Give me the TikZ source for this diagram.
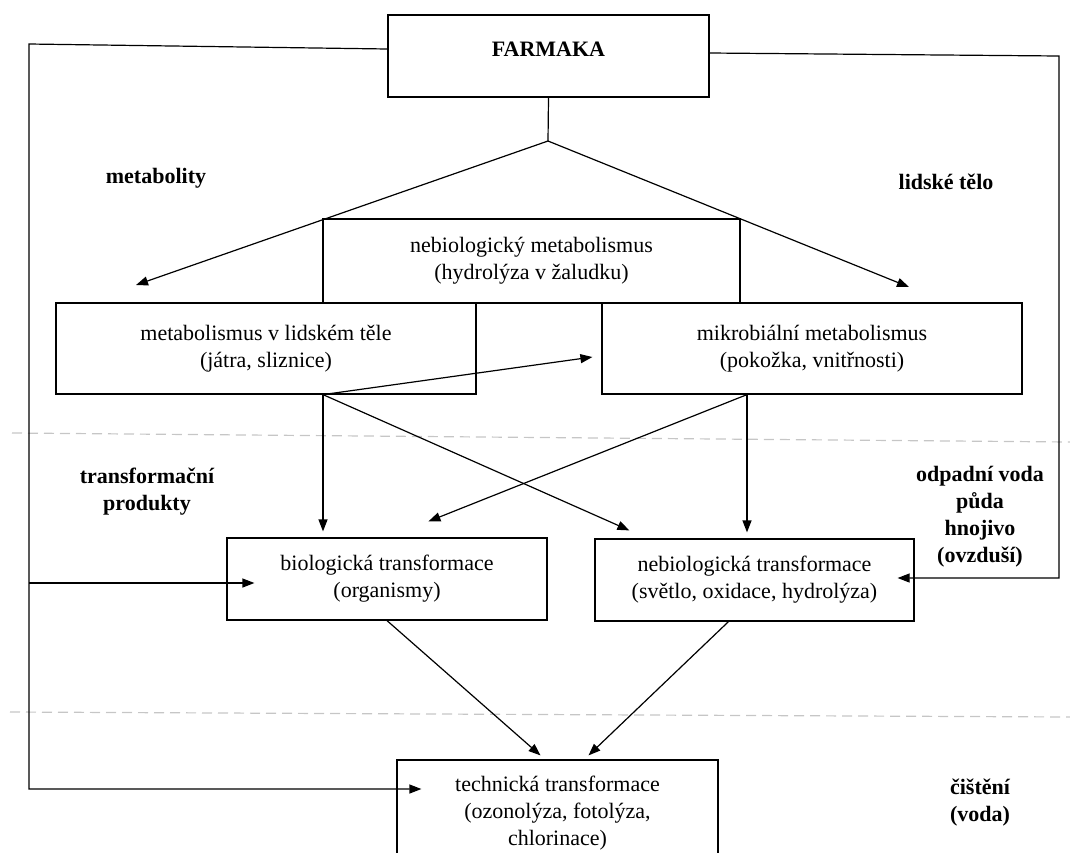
\documentclass[tikz,border=0pt]{standalone}
\usepackage{fontspec}
\setmainfont{Liberation Serif}
\usetikzlibrary{arrows.meta,positioning,calc}

\begin{document}
\begin{tikzpicture}[x=1pt, y=-1pt, font=\fontsize{22}{27}\selectfont, box/.style={draw, line width=1.2pt, align=center, inner sep=0pt}, arr/.style={-{Triangle[length=12pt,width=9pt]}, line width=1.2pt}, lbl/.style={font=\fontsize{22}{27}\selectfont\bfseries, align=center}, sep/.style={gray!45, line width=1.2pt, dash pattern=on 10pt off 6pt}]
\useasboundingbox (0,0) rectangle (1070,852);
\clip (0,0) rectangle (1070,852);
% boxes
\node[box, minimum width=321pt, minimum height=82pt, text depth=14pt] (farmaka) at (548.5,56) {\textbf{FARMAKA}};
\node[box, minimum width=417pt, minimum height=84pt] (nebmet) at (531.5,261) {nebiologický metabolismus\\(hydrolýza v žaludku)};
\node[box, minimum width=420pt, minimum height=91pt] (lidmet) at (266,348.5) {metabolismus v lidském těle\\(játra, sliznice)};
\node[box, minimum width=420pt, minimum height=91pt] (mikmet) at (812,348.5) {mikrobiální metabolismus\\(pokožka, vnitřnosti)};
\node[box, minimum width=320pt, minimum height=82pt] (biotr) at (387,579) {biologická transformace\\(organismy)};
\node[box, minimum width=319pt, minimum height=82pt] (nebtr) at (754.5,580) {nebiologická transformace\\(světlo, oxidace, hydrolýza)};
\node[box, minimum width=321pt, minimum height=106pt] (techtr) at (557.5,813) {technická transformace\\(ozonolýza, fotolýza,\\chlorinace)};
% side labels
\node[lbl] (metabolity) at (156,178) {metabolity};
\node[lbl] (telo) at (946,182) {lidské tělo};
\node[lbl] (produkty) at (147,492) {transformační\\produkty};
\node[lbl] (odpad) at (980,517) {odpadní voda\\půda\\hnojivo\\(ovzduší)};
\node[lbl] (cisteni) at (980,803) {čištění\\(voda)};
% separators
\draw[sep] (12,433) -- (1070,442);
\draw[sep] (10,712) -- (1070,717);
% helper points
\coordinate (split) at (548,141);
\coordinate (ltip) at (136,285);
\coordinate (rtip) at (909,287);
\coordinate (lcorner) at (29,44);
\coordinate (rcorner) at (1059,56);
\coordinate (bin) at ($(biotr.west)+(28,4)$);
\coordinate (tin) at ($(techtr.west)+(25,-24)$);
\coordinate (nin) at ($(nebtr.east)+(-17,-2)$);
\coordinate (lidfoot) at ($(lidmet.south)+(57,0)$);
\coordinate (mikfoot) at ($(mikmet.south)+(-65,0)$);
% connectors
\draw[arr] (farmaka.south) -- (split) -- (ltip);
\draw[arr] (split) -- (rtip);
\draw[arr] ($(farmaka.west)+(0,-7)$) -- (lcorner) -- (lcorner |- tin) -- (tin);
\draw[arr] (lcorner |- bin) -- (bin);
\draw[arr] ($(farmaka.east)+(0,-3)$) -- (rcorner) -- (rcorner |- nin) -- (nin);
\draw[arr, shorten >=6pt] (lidfoot) -- (lidfoot |- biotr.north);
\draw[arr] (lidfoot) -- ($(nebtr.north west)+(35,-8)$);
\draw[arr] (lidfoot) -- ($(mikmet.west)+(-9,8.5)$);
\draw[arr, shorten >=6pt] (mikfoot) -- (mikfoot |- nebtr.north);
\draw[arr] (mikfoot) -- ($(biotr.north west)+(202,-16)$);
\draw[arr] (biotr.south) -- ($(techtr.north)+(-17,-4)$);
\draw[arr] ($(nebtr.south)+(-26,0)$) -- ($(techtr.north)+(31,-4)$);
\end{tikzpicture}
\end{document}
